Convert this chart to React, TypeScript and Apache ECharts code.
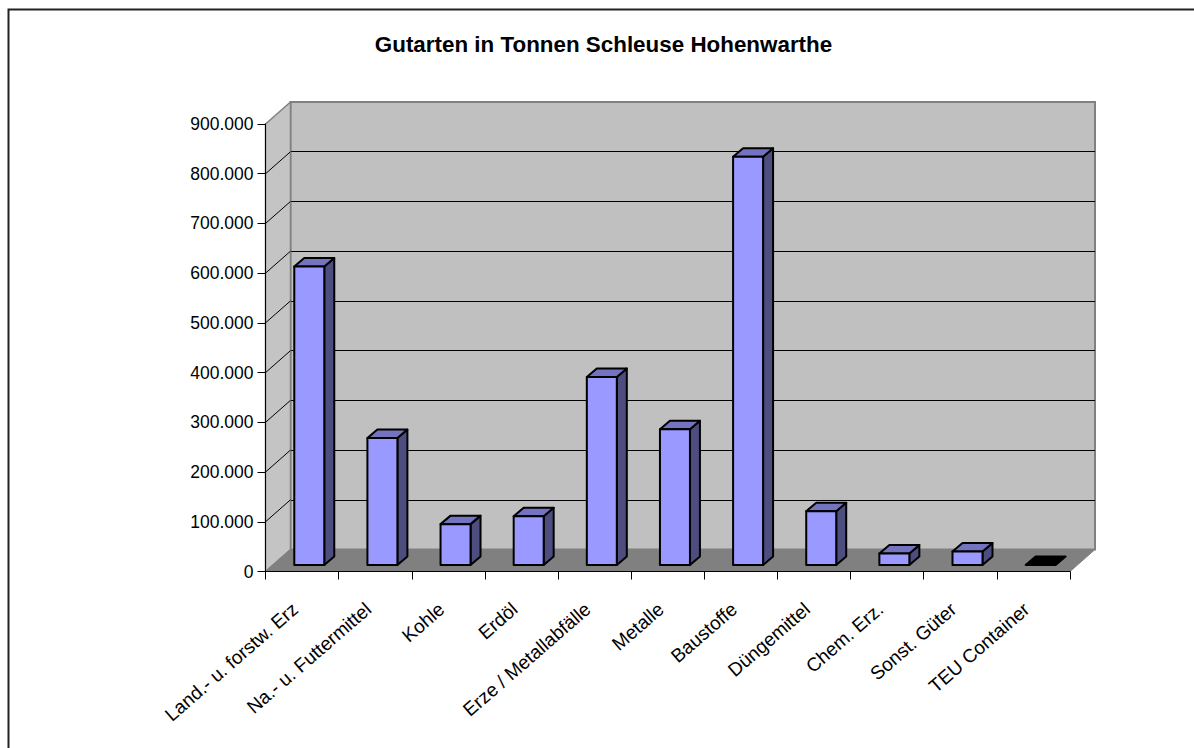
import React, { useEffect, useRef } from "react";
import * as echarts from "echarts";

const title = "Gutarten in Tonnen Schleuse Hohenwarthe";
const categories = ["Land.- u. forstw. Erz", "Na.- u. Futtermittel", "Kohle", "Erdöl", "Erze / Metallabfälle", "Metalle", "Baustoffe", "Düngemittel", "Chem. Erz.", "Sonst. Güter", "TEU Container"];
const tonnes = [600000, 255000, 82000, 98000, 378000, 273000, 821000, 108000, 23000, 27000, 0];
const yTicks = [0, 100000, 200000, 300000, 400000, 500000, 600000, 700000, 800000, 900000];

const FONT = "Liberation Sans";
const LEFT = 265.5, RIGHT = 1070, TOP = 124, BOTTOM = 571.5;
const DX = 25, DY = 22;
const W = 1194, H = 748;

const fmt = (v: number) => String(v).replace(/\B(?=(\d{3})+$)/g, ".");

const poly = (points: number[][], fill: string, stroke: string, lineWidth = 1) => ({
  type: "polygon",
  shape: { points },
  style: { fill, stroke, lineWidth, lineJoin: "round" },
});

export default function App() {
  const ref = useRef<HTMLDivElement>(null);
  useEffect(() => {
    const chart = echarts.init(ref.current!, undefined, { renderer: "svg" });
    chart.setOption({
      animation: false,
      backgroundColor: "#ffffff",
      title: {
        text: title,
        left: 598.5,
        top: 28,
        textAlign: "center",
        textStyle: { fontFamily: FONT, fontSize: 22.4, fontWeight: "bold", color: "#000" },
      },
      graphic: [
        { type: "polyline", shape: { points: [[8.5, 760], [8.5, 9.5], [1194, 9.5]] }, style: { fill: "none", stroke: "#222", lineWidth: 2 }, z: 0 },
      ],
      grid: [
        { left: LEFT, top: TOP, width: RIGHT - LEFT, height: BOTTOM - TOP },
        { left: LEFT + DX, top: TOP - DY, width: RIGHT - LEFT, height: BOTTOM - TOP, show: true, backgroundColor: "#c0c0c0", borderColor: "#808080", borderWidth: 2 },
      ],
      xAxis: [
        {
          gridIndex: 0, type: "category", data: categories,
          axisLine: { show: true, lineStyle: { color: "#000", width: 1 } },
          axisTick: { show: true, alignWithLabel: false, length: 8, lineStyle: { color: "#000" } },
          axisLabel: { rotate: 41, interval: 0, margin: 29, padding: [0, 9, 0, 0], fontFamily: FONT, fontSize: 19, color: "#000" },
          z: 5,
        },
        { gridIndex: 1, type: "category", data: categories, show: false },
      ],
      yAxis: [
        {
          gridIndex: 0, type: "value", min: 0, max: 900000, interval: 100000,
          axisLine: { show: true, lineStyle: { color: "#000", width: 1 } },
          axisTick: { show: true, length: 8, lineStyle: { color: "#000" } },
          axisLabel: { margin: 12, fontFamily: FONT, fontSize: 17.5, color: "#000", formatter: (v: number) => fmt(v) },
          splitLine: { show: false },
          z: 5,
        },
        {
          gridIndex: 1, type: "value", min: 0, max: 900000, interval: 100000,
          axisLine: { show: false }, axisTick: { show: false }, axisLabel: { show: false },
          splitLine: { show: true, showMinLine: false, showMaxLine: false, lineStyle: { color: "#000", width: 1 } },
          z: 1,
        },
      ],
      series: [
        {
          // side wall + floor
          type: "custom", xAxisIndex: 0, yAxisIndex: 0, z: 2, silent: true,
          data: [[0, 0]],
          renderItem: (_p: any, api: any) => {
            const n = categories.length;
            const b = api.size([1, 0])[0];
            const [x0, y0] = api.coord([0, 0]);
            const l = x0 - b / 2, r = x0 - b / 2 + b * n;
            const t = api.coord([0, 900000])[1];
            return {
              type: "group",
              children: [
                poly([[l, y0], [l + DX, y0 - DY], [l + DX, t - DY], [l, t]], "#c4c4c4", "#808080", 1.5),
                poly([[l, y0], [l + DX, y0 - DY], [r + DX, y0 - DY], [r, y0]], "#808080", "#808080", 1),
              ],
            };
          },
        },
        {
          // slanted grid lines on the side wall
          type: "custom", xAxisIndex: 0, yAxisIndex: 0, z: 3, silent: true,
          data: yTicks.slice(1, 9).map((v) => [0, v]),
          renderItem: (_p: any, api: any) => {
            const b = api.size([1, 0])[0];
            const c = api.coord([0, api.value(1)]);
            const l = c[0] - b / 2;
            return { type: "line", shape: { x1: l, y1: c[1], x2: l + DX, y2: c[1] - DY }, style: { stroke: "#000", lineWidth: 1 } };
          },
        },
        {
          // 3-D columns
          type: "custom", xAxisIndex: 0, yAxisIndex: 0, z: 4, silent: true,
          data: tonnes.map((v, i) => [i, v]),
          encode: { x: 0, y: 1 },
          renderItem: (_p: any, api: any) => {
            const i = api.value(0), v = api.value(1);
            const top = api.coord([i, v]);
            const base = api.coord([i, 0]);
            const b = api.size([1, 0])[0];
            const w = b * 0.41;
            const ox = DX * 0.3 - 0.3, oy = DY * 0.3;
            const dx = 10, dy = 8.5;
            const l = base[0] + ox - w / 2, r = l + w;
            const yb = base[1] - oy, yt = top[1] - oy;
            const stroke = "#000";
            if (v === 0) {
              return poly([[l, yb], [r, yb], [r + dx, yb - dy], [l + dx, yb - dy]], "#000", stroke, 2);
            }
            return {
              type: "group",
              children: [
                poly([[r, yb], [r + dx, yb - dy], [r + dx, yt - dy], [r, yt]], "#4d4d80", stroke, 2),
                poly([[l, yt], [r, yt], [r + dx, yt - dy], [l + dx, yt - dy]], "#7373bf", stroke, 2),
                poly([[l, yb], [r, yb], [r, yt], [l, yt]], "#9999ff", stroke, 2),
              ],
            };
          },
        },
      ],
    });
    return () => chart.dispose();
  }, []);
  return <div ref={ref} style={{ position: "fixed", left: 0, top: 0, width: W, height: H }} />;
}
